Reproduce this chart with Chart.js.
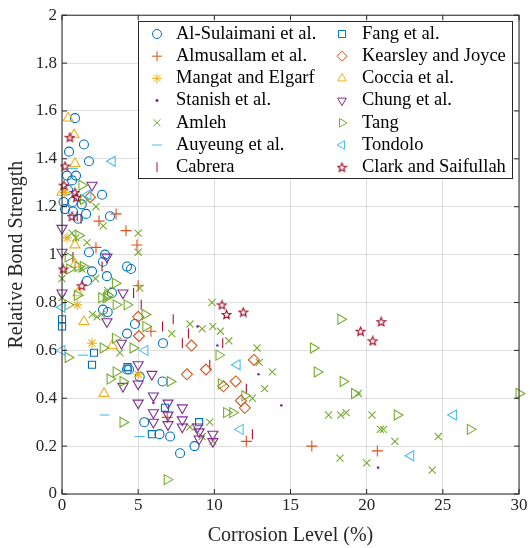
<!DOCTYPE html>
<html>
<head>
<meta charset="utf-8">
<script src="https://cdn.jsdelivr.net/npm/chart.js"></script>
<style>
  html, body { margin: 0; padding: 0; background: #fff; }
  canvas { display: block; }
</style>
</head>
<body>
<canvas id="grafico" width="530" height="548"></canvas>
<script>
// Pontos [corrosão (%), resistência relativa] de cada estudo
const alSulaimani = [[0.85,1.57],[1.44,1.46],[0.46,1.43],[1.77,1.39],[0.33,1.33],[0.92,1.33],[0.66,1.31],[0.4,1.27],[2.63,1.25],[0.1,1.22],[0.7,1.22],[1.3,1.21],[0.2,1.19],[0.72,1.18],[1.58,1.17],[3.15,1.16],[1.05,1.15],[1.77,1.01],[2.82,1.0],[2.69,0.97],[4.27,0.95],[4.53,0.94],[1.97,0.93],[2.95,0.91],[1.64,0.89],[3.28,0.84],[2.69,0.77],[3.0,0.76],[4.79,0.71],[4.27,0.67],[6.63,0.63],[4.27,0.52],[4.4,0.52],[5.1,0.49],[6.6,0.47],[5.4,0.30],[6.4,0.25],[7.1,0.24],[8.7,0.20],[7.75,0.17]];
const almusallam = [[3.55,1.17],[2.43,1.14],[4.2,1.10],[2.23,1.03],[4.92,1.04],[5.0,0.87],[5.84,0.68],[6.9,0.32],[12.1,0.22],[16.4,0.20],[20.7,0.18]];
const mangat = [[0.2,1.26],[0.33,1.07],[1.0,0.79],[1.97,0.63],[5.0,0.50]];
const stanish = [[6.0,0.38],[8.9,0.70],[10.2,0.62],[12.9,0.50],[14.4,0.37],[20.75,0.11]];
const amleh = [[2.23,1.20],[2.7,1.12],[1.64,1.05],[0.66,1.09],[0.9,1.07],[5.0,1.09],[5.0,1.01],[0.0,0.90],[1.3,0.94],[2.2,0.90],[5.1,0.86],[0.0,0.82],[3.0,0.85],[2.0,0.75],[2.3,0.74],[2.6,0.75],[3.8,0.59],[7.2,0.67],[8.4,0.71],[9.85,0.80],[9.2,0.69],[9.9,0.70],[10.4,0.68],[10.95,0.64],[12.8,0.61],[12.95,0.55],[13.8,0.51],[13.3,0.44],[12.5,0.40],[9.7,0.30],[8.4,0.28],[9.2,0.24],[9.9,0.22],[17.5,0.33],[18.3,0.33],[18.65,0.34],[18.25,0.15],[19.45,0.42],[20.35,0.33],[20.9,0.27],[21.1,0.27],[21.85,0.22],[20.0,0.13],[24.7,0.24],[24.3,0.10]];
const auyeung = [[0.72,1.36],[1.38,0.58],[2.8,0.33],[5.1,0.24]];
const cabrera = [[1.0,1.16],[1.25,1.15],[0.72,0.99],[2.63,0.95],[4.7,0.84],[5.2,0.79],[6.6,0.70],[7.3,0.73],[7.9,0.63],[8.3,0.67],[10.55,0.63],[9.7,0.54],[12.1,0.44],[12.5,0.25]];
const fang = [[0.0,0.73],[0.0,0.70],[2.1,0.59],[1.97,0.54],[4.3,0.53],[6.76,0.36],[5.9,0.25],[9.0,0.30]];
const kearsley = [[1.84,1.24],[5.0,0.74],[5.05,0.66],[8.5,0.62],[8.2,0.50],[9.45,0.52],[12.6,0.56],[11.4,0.47],[10.6,0.45],[11.75,0.39],[12.0,0.36]];
const coccia = [[0.4,1.57],[0.79,1.50],[0.85,1.38],[0.0,1.26],[0.85,1.04],[0.85,0.96],[1.05,0.84],[1.44,0.72],[3.3,0.62],[2.76,0.42]];
const chung = [[1.97,1.29],[0.0,1.11],[0.0,1.01],[2.95,0.99],[0.0,0.84],[4.0,0.84],[2.95,0.72],[3.9,0.63],[5.0,0.54],[5.9,0.50],[5.0,0.46],[4.0,0.45],[6.0,0.41],[5.0,0.38],[6.96,0.38],[7.9,0.36],[6.0,0.34],[6.96,0.33],[7.9,0.31],[6.0,0.30],[6.96,0.29],[7.9,0.28],[8.9,0.28],[9.0,0.26],[9.0,0.23],[9.9,0.25],[9.9,0.22]];
const tang = [[1.3,1.29],[1.4,1.23],[1.1,1.08],[0.4,0.99],[1.05,0.95],[0.5,0.94],[1.4,0.95],[1.0,0.83],[0.4,0.79],[3.5,0.88],[3.55,0.79],[2.6,0.82],[2.9,0.82],[3.0,0.83],[4.27,0.79],[5.45,0.75],[5.5,0.70],[3.5,0.65],[4.66,0.61],[2.7,0.61],[0.4,0.57],[3.15,0.48],[3.55,0.51],[4.0,0.47],[7.1,0.47],[6.9,0.06],[4.0,0.30],[10.3,0.58],[10.45,0.46],[10.8,0.34],[11.2,0.34],[12.0,0.41],[18.3,0.73],[16.5,0.61],[16.75,0.51],[18.45,0.47],[19.2,0.42],[22.0,0.33],[26.8,0.27],[30.0,0.42]];
const tondolo = [[3.3,1.39],[1.7,1.25],[0.0,0.78],[0.0,0.60],[5.45,0.60],[11.5,0.54],[11.7,0.27],[25.7,0.33],[22.9,0.16]];
const clark = [[0.52,1.49],[0.2,1.37],[0.13,1.29],[0.85,1.26],[0.95,1.24],[0.66,1.16],[0.07,0.94],[1.3,0.87],[10.5,0.79],[10.8,0.75],[11.9,0.76],[20.95,0.72],[19.6,0.68],[20.4,0.64]];

const ticksX = [0, 5, 10, 15, 20, 25, 30];
const ticksY = [0, 0.2, 0.4, 0.6, 0.8, 1, 1.2, 1.4, 1.6, 1.8, 2];

const FONTE = '"Liberation Serif", "Times New Roman", serif';
const COR_EIXO = '#262626';
const ESPESSURA = 1.1;

// estrela de cinco pontas desenhada num canvas pequeno (não existe pointStyle pronto)
function criarEstrela(cor) {
    const c = document.createElement('canvas');
    c.width = 11; c.height = 11;
    const ctx = c.getContext('2d');
    ctx.strokeStyle = cor;
    ctx.lineWidth = 1.2;
    ctx.beginPath();
    for (let i = 0; i < 10; i++) {
        const r = i % 2 === 0 ? 4.5 : 2.0;
        const a = -Math.PI / 2 + i * Math.PI / 5;
        const px = 5.5 + r * Math.cos(a);
        const py = 5.9 + r * Math.sin(a);
        if (i === 0) ctx.moveTo(px, py); else ctx.lineTo(px, py);
    }
    ctx.closePath();
    ctx.stroke();
    return c;
}

const series = [
    { nome: "Al-Sulaimani et al.", dados: alSulaimani, cor: "#0072BD", estilo: "circle", rot: 0, raio: 4.5 },
    { nome: "Almusallam et al.", dados: almusallam, cor: "#D95319", estilo: "cross", rot: 0, raio: 5.5 },
    { nome: "Mangat and Elgarf", dados: mangat, cor: "#EDB120", estilo: "star", rot: 0, raio: 5 },
    { nome: "Stanish et al.", dados: stanish, cor: "#7E2F8E", estilo: "circle", rot: 0, raio: 1.3, cheio: true },
    { nome: "Amleh", dados: amleh, cor: "#77AC30", estilo: "crossRot", rot: 0, raio: 5 },
    { nome: "Auyeung et al.", dados: auyeung, cor: "#4DBEEE", estilo: "line", rot: 0, raio: 5 },
    { nome: "Cabrera", dados: cabrera, cor: "#A2142F", estilo: "line", rot: 90, raio: 5 },
    { nome: "Fang et al.", dados: fang, cor: "#0072BD", estilo: "rect", rot: 0, raio: 5 },
    { nome: "Kearsley and Joyce", dados: kearsley, cor: "#D95319", estilo: "rectRot", rot: 0, raio: 5.5 },
    { nome: "Coccia et al.", dados: coccia, cor: "#EDB120", estilo: "triangle", rot: 0, raio: 5.8 },
    { nome: "Chung et al.", dados: chung, cor: "#7E2F8E", estilo: "triangle", rot: 180, raio: 5.8 },
    { nome: "Tang", dados: tang, cor: "#77AC30", estilo: "triangle", rot: 90, raio: 5.8 },
    { nome: "Tondolo", dados: tondolo, cor: "#4DBEEE", estilo: "triangle", rot: -90, raio: 5.8 },
    { nome: "Clark and Saifullah", dados: clark, cor: "#A2142F", estilo: criarEstrela("#A2142F"), rot: 0, raio: 5 }
];

// moldura dos eixos com marcas de escala para dentro (nos quatro lados)
const moldura = {
    id: 'moldura',
    afterDatasetsDraw(chart) {
        const { ctx, chartArea: a, scales: { x, y } } = chart;
        ctx.save();
        ctx.strokeStyle = COR_EIXO;
        ctx.lineWidth = 1;
        ctx.strokeRect(a.left, a.top, a.right - a.left, a.bottom - a.top);
        ctx.beginPath();
        ticksX.forEach(v => {
            const px = x.getPixelForValue(v);
            ctx.moveTo(px, a.bottom); ctx.lineTo(px, a.bottom - 5);
            ctx.moveTo(px, a.top); ctx.lineTo(px, a.top + 5);
        });
        ticksY.forEach(v => {
            const py = y.getPixelForValue(v);
            ctx.moveTo(a.left, py); ctx.lineTo(a.left + 5, py);
            ctx.moveTo(a.right, py); ctx.lineTo(a.right - 5, py);
        });
        ctx.stroke();
        ctx.restore();
    }
};

// legenda em duas colunas dentro da área do gráfico
const legendaCaixa = {
    id: 'legendaCaixa',
    afterDraw(chart) {
        const ctx = chart.ctx;
        const caixa = { x: 138, y: 21, w: 374, h: 157 };
        ctx.save();
        ctx.fillStyle = '#fff';
        ctx.fillRect(caixa.x, caixa.y, caixa.w, caixa.h);
        ctx.strokeStyle = COR_EIXO;
        ctx.lineWidth = 1;
        ctx.strokeRect(caixa.x + 0.5, caixa.y + 0.5, caixa.w, caixa.h);
        ctx.font = '18.5px ' + FONTE;
        ctx.textBaseline = 'middle';
        ctx.textAlign = 'left';
        series.forEach((s, i) => {
            const col = Math.floor(i / 7);
            const lin = i % 7;
            const mx = col === 0 ? 157 : 342;
            const tx = col === 0 ? 176 : 362;
            const ly = 34 + lin * 22.2;
            if (typeof s.estilo === 'string') {
                ctx.strokeStyle = s.cor;
                ctx.fillStyle = s.cheio ? s.cor : 'rgba(0,0,0,0)';
                Chart.helpers.drawPoint(ctx, {
                    pointStyle: s.estilo, rotation: s.rot,
                    radius: s.cheio ? 1.3 : Math.min(s.raio, 5), borderWidth: s.cheio ? 0 : ESPESSURA
                }, mx, ly);
                if (s.cheio) { ctx.beginPath(); ctx.arc(mx, ly, 1.4, 0, Math.PI * 2); ctx.fill(); }
            } else {
                ctx.drawImage(s.estilo, mx - s.estilo.width / 2, ly - s.estilo.height / 2);
            }
            ctx.fillStyle = '#000';
            ctx.fillText(s.nome, tx, ly);
        });
        ctx.restore();
    }
};

const datasets = series.map((s, i) => ({
    label: s.nome,
    data: s.dados.map(p => ({ x: p[0], y: p[1] })),
    showLine: false,
    pointStyle: s.estilo,
    rotation: s.rot,
    pointRadius: s.raio,
    pointHoverRadius: s.raio,
    pointBorderWidth: s.cheio ? 0 : ESPESSURA,
    pointHoverBorderWidth: s.cheio ? 0 : ESPESSURA,
    pointBorderColor: s.cor,
    pointBackgroundColor: s.cheio ? s.cor : 'rgba(0,0,0,0)',
    clip: false,
    order: series.length - i
}));

Chart.defaults.font.family = FONTE;
Chart.defaults.color = COR_EIXO;

new Chart(document.getElementById('grafico').getContext('2d'), {
    type: 'scatter',
    data: { datasets },
    options: {
        responsive: false,
        devicePixelRatio: 1,
        animation: false,
        events: [],
        layout: { padding: { left: 0, right: 11, top: 13, bottom: 0 } },
        plugins: { legend: { display: false }, tooltip: { enabled: false } },
        scales: {
            x: {
                type: 'linear', min: 0, max: 30,
                afterBuildTicks: s => { s.ticks = ticksX.map(v => ({ value: v })); },
                afterFit: s => { s.height = 54; },
                ticks: { font: { size: 17 }, padding: 1, maxRotation: 0, color: COR_EIXO },
                grid: { color: 'rgba(38,38,38,0.15)', drawTicks: false },
                border: { display: false },
                title: { display: true, text: 'Corrosion Level (%)', font: { size: 20 }, padding: { top: 0, bottom: 0 }, color: COR_EIXO }
            },
            y: {
                type: 'linear', min: 0, max: 2,
                afterBuildTicks: s => { s.ticks = ticksY.map(v => ({ value: v })); },
                afterFit: s => { s.width = 62; },
                ticks: { font: { size: 17 }, padding: 5, color: COR_EIXO, callback: v => String(Number(v.toFixed(1))) },
                grid: { color: 'rgba(38,38,38,0.15)', drawTicks: false },
                border: { display: false },
                title: { display: true, text: 'Relative Bond Strength', font: { size: 20 }, padding: { top: 5, bottom: 0 }, color: COR_EIXO }
            }
        }
    },
    plugins: [moldura, legendaCaixa]
});
</script>
</body>
</html>
